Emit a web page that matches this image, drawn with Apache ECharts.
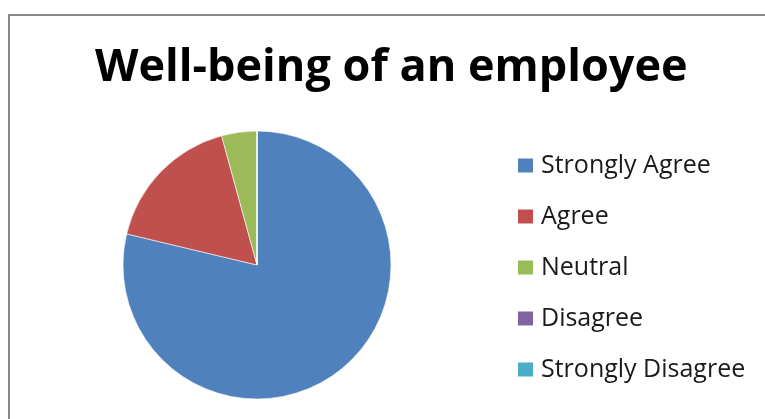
<!DOCTYPE html>
<html>
<head>
<meta charset="utf-8">
<style>
  html, body { margin: 0; padding: 0; background: #fff; }
  #chart { width: 765px; height: 419px; }
</style>
<script src="https://cdn.jsdelivr.net/npm/echarts@6/dist/echarts.min.js"></script>
</head>
<body>
<div id="chart"></div>
<script>
// Survey responses for "Well-being of an employee"
const categories = ['Strongly Agree', 'Agree', 'Neutral', 'Disagree', 'Strongly Disagree'];
const responses = [37, 8, 2, 0, 0];
const sliceColors = ['#4F81BD', '#C0504D', '#9BBB59', '#8064A2', '#4BACC6'];
const chartTitle = 'Well-being of an employee';

const chart = echarts.init(document.getElementById('chart'), null, { renderer: 'canvas' });

chart.setOption({
  backgroundColor: '#ffffff',
  animation: false,
  color: sliceColors,
  title: {
    text: chartTitle,
    left: 95,
    top: 46,
    padding: 0,
    textStyle: {
      fontFamily: 'Open Sans',
      fontWeight: 'bold',
      fontSize: 45,
      color: '#000000'
    }
  },
  legend: {
    orient: 'vertical',
    left: 518,
    top: 153,
    padding: 0,
    icon: 'rect',
    itemWidth: 15,
    itemHeight: 14,
    itemGap: 26,
    selectedMode: false,
    itemStyle: { borderWidth: 0 },
    textStyle: {
      fontFamily: 'Open Sans',
      fontSize: 25,
      lineHeight: 25,
      color: '#1a1a1a',
      padding: [0, 0, 0, 3]
    },
    data: categories
  },
  graphic: [{
    type: 'polyline',
    silent: true,
    shape: { points: [[9, 430], [9, 15], [780, 15]] },
    style: { stroke: '#888888', lineWidth: 2, fill: null }
  }],
  series: [{
    type: 'pie',
    center: [257, 265],
    radius: 134,
    startAngle: 90,
    clockwise: true,
    label: { show: false },
    labelLine: { show: false },
    itemStyle: { borderColor: '#ffffff', borderWidth: 0.6 },
    emphasis: { disabled: true },
    data: categories.map((name, i) => ({ name, value: responses[i] }))
  }]
});
</script>
</body>
</html>
